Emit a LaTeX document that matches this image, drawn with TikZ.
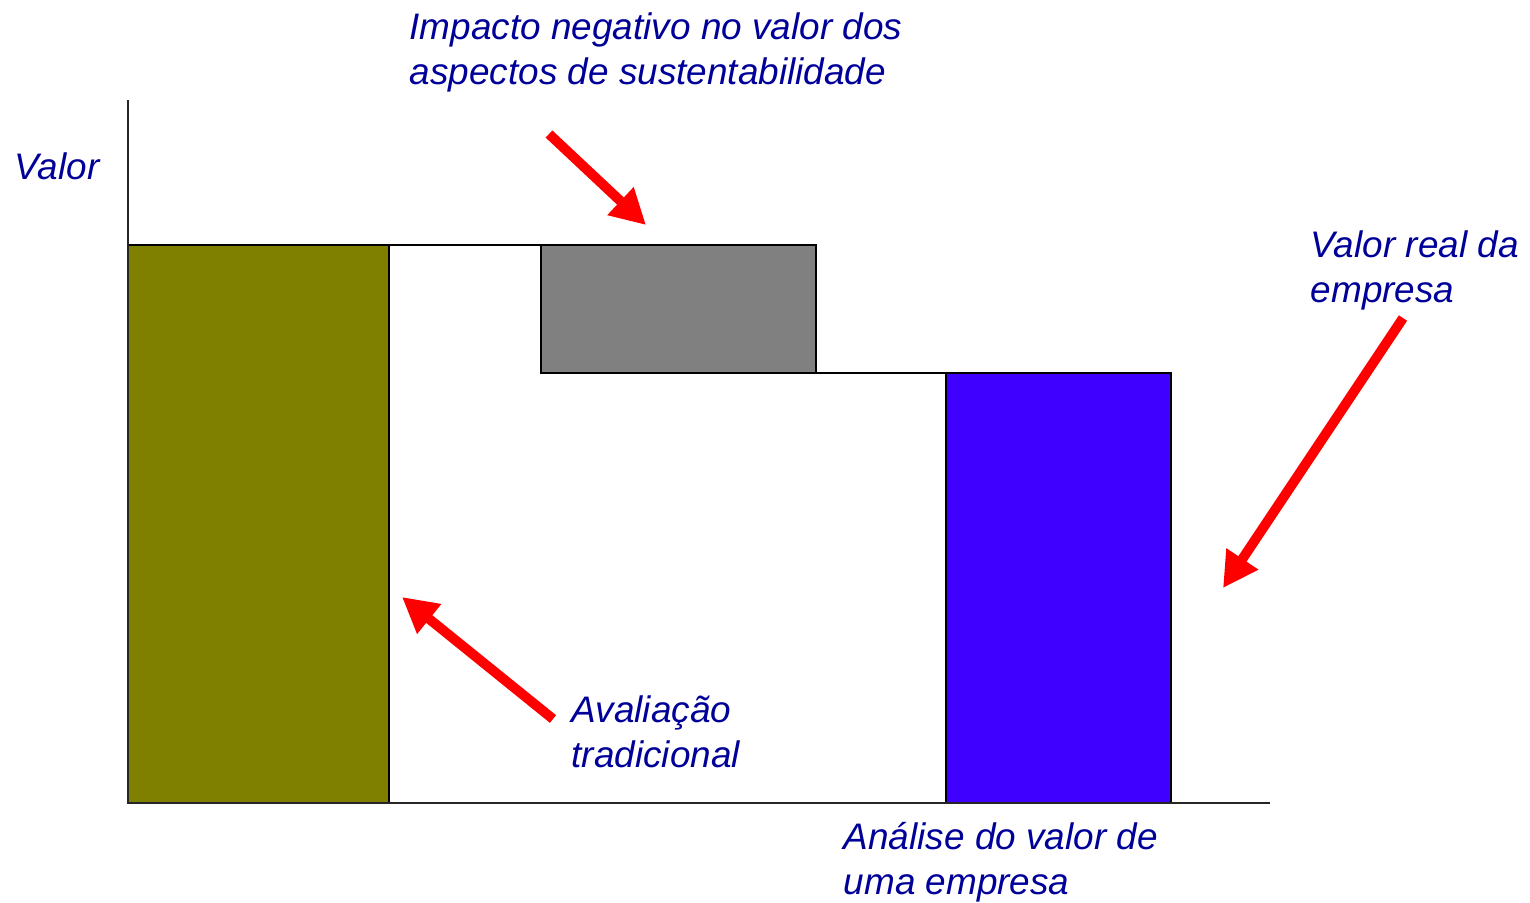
\documentclass[tikz,border=0pt]{standalone}
\usepackage{fontspec}
\setmainfont{Liberation Sans}
\usetikzlibrary{arrows.meta}

\definecolor{txtblue}{RGB}{0,0,153}
\definecolor{barolive}{RGB}{128,128,0}
\definecolor{bargray}{RGB}{128,128,128}
\definecolor{barblue}{RGB}{64,0,255}
\definecolor{setared}{RGB}{255,0,0}

\tikzset{
  lbl/.style={text=txtblue, font=\itshape\fontsize{10.5}{12.6}\selectfont, align=left, inner sep=0pt, anchor=base west},
  barra/.style={draw=black, line width=0.6pt},
  seta/.style={draw=setared, line width=2.8pt, -{Triangle[length=0.35cm,width=0.36cm]}},
  eixo/.style={draw=black!85, line width=0.8pt}
}

\begin{document}
\begin{tikzpicture}[x=0.01cm,y=-0.01cm]
\useasboundingbox (0,0) rectangle (1530,902);

% barras
\draw[barra, fill=barolive] (128,245) rectangle (389,803);
\draw[barra, fill=bargray] (541,245) rectangle (816,373);
\draw[barra, fill=barblue] (946,373) rectangle (1171,803);
\draw[barra] (389,245) -- (541,245);
\draw[barra] (816,373) -- (946,373);

% eixos
\draw[eixo] (128,100) -- (128,803) -- (1270,803);

% textos (base = ultima linha)
\node[lbl] (valor) at (14,179) {Valor};
\node[lbl] (impacto) at (409,84) {Impacto negativo no valor dos\\aspectos de sustentabilidade};
\node[lbl] (real) at (1310,302) {Valor real da\\empresa};
\node[lbl] (avaliacao) at (571,767) {Avaliação\\tradicional};
\node[lbl] (analise) at (843,894) {Análise do valor de\\uma empresa};

% setas
\coordinate (impA) at (549,134);
\coordinate (impB) at (646,225);
\coordinate (avaA) at (553,719);
\coordinate (avaB) at (402,597);
\coordinate (realA) at (1403,318);
\coordinate (realB) at (1223,588);
\draw[seta] (impA) -- (impB);
\draw[seta] (avaA) -- (avaB);
\draw[seta] (realA) -- (realB);

\end{tikzpicture}
\end{document}
